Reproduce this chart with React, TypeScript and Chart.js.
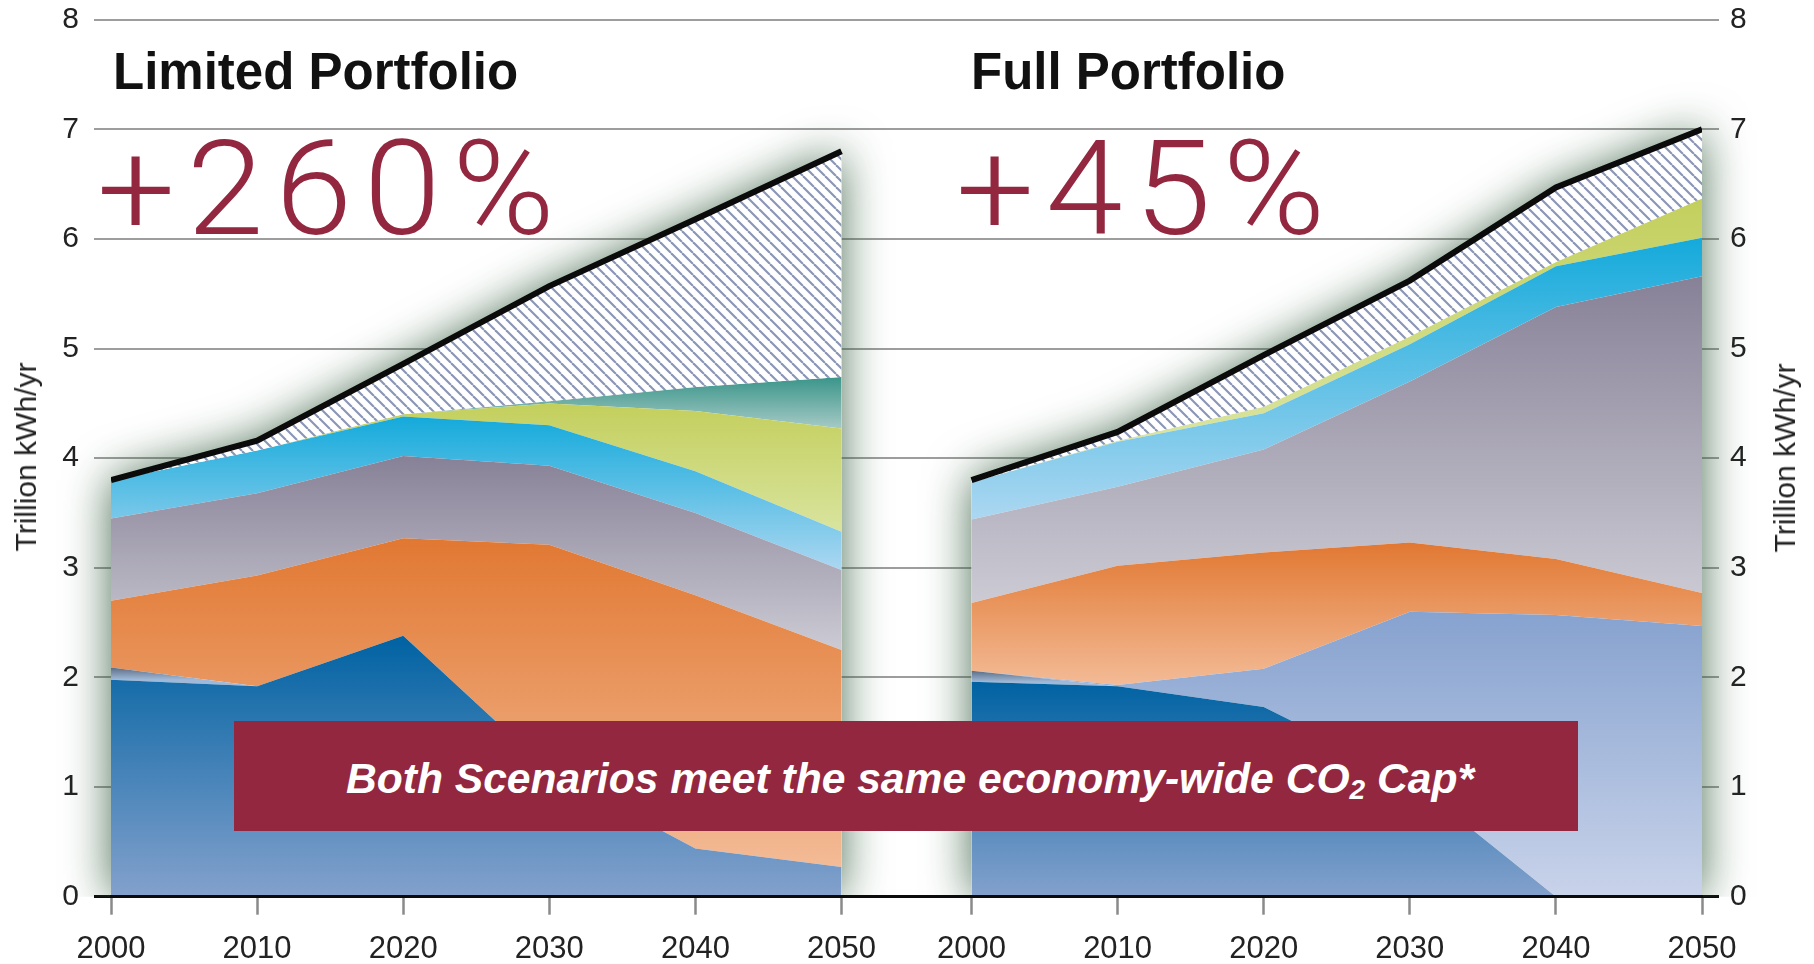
import React, { useEffect, useRef } from 'react';
import { Chart, registerables } from 'chart.js';

Chart.register(...registerables);

// ---------- data (trillion kWh / yr) ----------
const YEARS = [2000, 2010, 2020, 2030, 2040, 2050];
const Y_TICKS = [0, 1, 2, 3, 4, 5, 6, 7, 8];
const PANEL_TITLES = ['Limited Portfolio', 'Full Portfolio'];
const PANEL_CHANGE = ['+260%', '+45%'];
const BANNER_TEXT = ['Both Scenarios meet the same economy-wide CO', '2', ' Cap*'];
const AXIS_TITLE = 'Trillion kWh/yr';

// Limited Portfolio: layer thickness, bottom to top
const limitedCoal = [1.98, 1.92, 2.38, 1.15, 0.44, 0.27];
const limitedOil = [0.11, 0, 0, 0, 0, 0];
const limitedGas = [0.61, 1.01, 0.89, 2.06, 2.31, 1.98];
const limitedNuclear = [0.75, 0.75, 0.75, 0.72, 0.75, 0.73];
const limitedHydro = [0.35, 0.39, 0.36, 0.37, 0.38, 0.35];
const limitedWind = [0, 0, 0.02, 0.2, 0.55, 0.94];
const limitedOther = [0, 0, 0, 0.02, 0.22, 0.47];
const limitedDemand = [3.8, 4.16, 4.86, 5.57, 6.18, 6.8];

// Full Portfolio: layer thickness, bottom to top
const fullCoal = [1.96, 1.92, 1.73, 1.07, 0, 0];
const fullOil = [0.1, 0, 0, 0, 0, 0];
const fullCoalCcs = [0, 0.01, 0.35, 1.53, 2.57, 2.47];
const fullGas = [0.62, 1.09, 1.06, 0.63, 0.51, 0.3];
const fullNuclear = [0.76, 0.72, 0.94, 1.47, 2.3, 2.89];
const fullHydro = [0.34, 0.41, 0.33, 0.34, 0.37, 0.35];
const fullWind = [0, 0.01, 0.06, 0.07, 0.04, 0.36];
const fullDemand = [3.8, 4.24, 4.94, 5.62, 6.47, 7.0];

// ---------- style ----------
const FONT = "'Liberation Sans', Arial, Helvetica, sans-serif";
const PANEL_SHIFT = 58.9; // axis offset of the second panel (layout)
const COLORS: Record<string, [string, string]> = {
  coal: ['#0062a2', '#84a1cc'],
  oil: ['#5b6d85', '#a0b9d8'],
  ccs: ['#86a2cf', '#c9d3ea'],
  gas: ['#e17832', '#f3bb96'],
  nuclear: ['#878197', '#cccbd4'],
  hydro: ['#14aadb', '#acd7f1'],
  wind: ['#c3cf5c', '#d9e49f'],
  other: ['#3a958a', '#a6cac6'],
};
const WINE = '#93273f';

type Layer = { label: string; values: number[]; colors: [string, string] };

const panels: { layers: Layer[]; demand: number[]; shift: number }[] = [
  {
    shift: 0,
    demand: limitedDemand,
    layers: [
      { label: 'Coal', values: limitedCoal, colors: COLORS.coal },
      { label: 'Oil', values: limitedOil, colors: COLORS.oil },
      { label: 'Natural gas', values: limitedGas, colors: COLORS.gas },
      { label: 'Nuclear', values: limitedNuclear, colors: COLORS.nuclear },
      { label: 'Hydro', values: limitedHydro, colors: COLORS.hydro },
      { label: 'Wind', values: limitedWind, colors: COLORS.wind },
      { label: 'Other renewables', values: limitedOther, colors: COLORS.other },
    ],
  },
  {
    shift: PANEL_SHIFT,
    demand: fullDemand,
    layers: [
      { label: 'Coal', values: fullCoal, colors: COLORS.coal },
      { label: 'Oil', values: fullOil, colors: COLORS.oil },
      { label: 'Coal with CCS', values: fullCoalCcs, colors: COLORS.ccs },
      { label: 'Natural gas', values: fullGas, colors: COLORS.gas },
      { label: 'Nuclear', values: fullNuclear, colors: COLORS.nuclear },
      { label: 'Hydro', values: fullHydro, colors: COLORS.hydro },
      { label: 'Wind', values: fullWind, colors: COLORS.wind },
    ],
  },
];

const X_TICKS = panels.flatMap((p) => YEARS.map((y) => y + p.shift));

function makeGradient(chart: any, hi: number, lo: number, colors: [string, string]) {
  const ys = chart.scales && chart.scales.y;
  if (!chart.chartArea || !ys) return colors[0];
  const y1 = ys.getPixelForValue(hi);
  let y2 = ys.getPixelForValue(lo);
  if (Math.abs(y2 - y1) < 1) y2 = y1 + 1;
  const g = chart.ctx.createLinearGradient(0, y1, 0, y2);
  g.addColorStop(0, colors[0]);
  g.addColorStop(1, colors[1]);
  return g;
}

function makeHatch(): CanvasPattern | string {
  const s = 11;
  const c = document.createElement('canvas');
  c.width = s;
  c.height = s;
  const g = c.getContext('2d');
  if (!g) return '#fff';
  g.fillStyle = '#ffffff';
  g.fillRect(0, 0, s, s);
  g.strokeStyle = '#8a96b6';
  g.lineWidth = 2.1;
  for (const k of [-1, 0, 1]) {
    g.beginPath();
    g.moveTo(k * s, 0);
    g.lineTo(k * s + s, s);
    g.stroke();
  }
  return g.createPattern(c, 'repeat') || '#fff';
}

function buildDatasets(hatch: CanvasPattern | string) {
  const out: any[] = [];
  panels.forEach((p) => {
    let run = YEARS.map(() => 0);
    p.layers.forEach((layer, li) => {
      const bottom = run.slice();
      run = run.map((v, i) => v + layer.values[i]);
      const top = run.slice();
      const idx = layer.values.map((v, i) => (v > 0.005 ? i : -1)).filter((i) => i >= 0);
      const hi = Math.max(...idx.map((i) => top[i]));
      const lo = Math.min(...idx.map((i) => bottom[i]));
      out.push({
        label: layer.label,
        data: YEARS.map((yr, i) => ({ x: yr + p.shift, y: top[i] })),
        fill: li === 0 ? 'origin' : '-1',
        borderWidth: 0,
        borderColor: 'rgba(0,0,0,0)',
        pointRadius: 0,
        tension: 0,
        order: 1,
        backgroundColor: (ctx: any) => makeGradient(ctx.chart, hi, lo, layer.colors),
      });
    });
    out.push({
      label: 'Demand',
      data: YEARS.map((yr, i) => ({ x: yr + p.shift, y: p.demand[i] })),
      fill: '-1',
      borderColor: '#0b0b0b',
      borderWidth: 6,
      borderCapStyle: 'butt',
      borderJoinStyle: 'miter',
      pointRadius: 0,
      tension: 0,
      order: 0,
      backgroundColor: hatch,
    });
  });
  return out;
}

const glowPlugin = {
  id: 'glow',
  beforeDatasetsDraw(chart: any) {
    const { ctx } = chart;
    const xs = chart.scales.x;
    const ys = chart.scales.y;
    const y0 = ys.getPixelForValue(0);
    ctx.save();
    ctx.beginPath();
    ctx.rect(0, 0, chart.width, y0);
    ctx.clip();
    panels.forEach((p) => {
      ctx.beginPath();
      ctx.moveTo(xs.getPixelForValue(YEARS[0] + p.shift), y0);
      YEARS.forEach((yr, i) => ctx.lineTo(xs.getPixelForValue(yr + p.shift), ys.getPixelForValue(p.demand[i])));
      ctx.lineTo(xs.getPixelForValue(YEARS[YEARS.length - 1] + p.shift), y0);
      ctx.closePath();
      ctx.shadowColor = 'rgba(55,95,65,0.9)';
      ctx.shadowBlur = 46;
      ctx.fillStyle = '#ffffff';
      ctx.fill();
    });
    ctx.restore();
  },
};

const gridColor = (ctx: any) => (ctx.tick && ctx.tick.value === 0 ? '#0b0b0b' : '#9d9d9d');
const gridWidth = (ctx: any) => (ctx.tick && ctx.tick.value === 0 ? 3 : 2);

const fitY = (w: number) => (s: any) => {
  s.width = w;
  s.paddingTop = 0;
  s.paddingBottom = 0;
};

export default function App() {
  const ref = useRef<HTMLCanvasElement | null>(null);

  useEffect(() => {
    if (!ref.current) return;
    const hatch = makeHatch();
    const chart = new Chart(ref.current, {
      type: 'line',
      data: { datasets: buildDatasets(hatch) },
      plugins: [glowPlugin],
      options: {
        animation: false,
        responsive: false,
        events: [],
        layout: { padding: { top: 19.7, left: 0, right: 0, bottom: 0 }, autoPadding: false },
        plugins: { legend: { display: false }, tooltip: { enabled: false } },
        scales: {
          x: {
            type: 'linear',
            min: YEARS[0],
            max: YEARS[YEARS.length - 1] + PANEL_SHIFT,
            afterBuildTicks: (s: any) => {
              s.ticks = X_TICKS.map((v) => ({ value: v }));
            },
            afterFit: (s: any) => {
              s.height = 67.3;
              s.paddingLeft = 0;
              s.paddingRight = 0;
            },
            grid: { drawOnChartArea: false, drawTicks: true, tickLength: 18, tickColor: '#8a8a8a', tickWidth: 2.5 },
            border: { display: true, color: '#0b0b0b', width: 3, z: 1 },
            ticks: {
              autoSkip: false,
              maxRotation: 0,
              minRotation: 0,
              padding: 16,
              color: '#222',
              font: { family: FONT, size: 31 },
              callback: (v: any) => String(Math.round(v > YEARS[YEARS.length - 1] + 1 ? v - PANEL_SHIFT : v)),
            },
          },
          y: {
            position: 'left',
            min: 0,
            max: 8,
            afterBuildTicks: (s: any) => {
              s.ticks = Y_TICKS.map((v) => ({ value: v }));
            },
            afterFit: fitY(111),
            grid: { color: gridColor, lineWidth: gridWidth, tickLength: 17, drawTicks: true },
            border: { display: false },
            ticks: { padding: 15, color: '#222', font: { family: FONT, size: 30 } },
          },
          y2: {
            position: 'right',
            min: 0,
            max: 8,
            afterBuildTicks: (s: any) => {
              s.ticks = Y_TICKS.map((v) => ({ value: v }));
            },
            afterFit: fitY(112),
            grid: { drawOnChartArea: false, color: gridColor, lineWidth: gridWidth, tickLength: 17, drawTicks: true },
            border: { display: false },
            ticks: { padding: 11, color: '#222', font: { family: FONT, size: 30 } },
          },
        },
      } as any,
    });
    return () => chart.destroy();
  }, []);

  const titleStyle: React.CSSProperties = {
    position: 'absolute',
    top: 46,
    fontFamily: FONT,
    fontWeight: 700,
    fontSize: 51,
    lineHeight: '51px',
    color: '#111',
    whiteSpace: 'nowrap',
  };
  const pctStyle: React.CSSProperties = {
    position: 'absolute',
    top: 123,
    fontFamily: "Roboto, 'Open Sans', sans-serif",
    fontWeight: 300,
    fontSize: 132,
    lineHeight: '132px',
    letterSpacing: 11,
    color: WINE,
    whiteSpace: 'nowrap',
    transform: 'scaleX(1.05)',
    transformOrigin: 'left center',
  };
  const axisTitle = (cx: number, cy: number): React.CSSProperties => ({
    position: 'absolute',
    left: cx,
    top: cy,
    transform: 'translate(-50%, -50%) rotate(-90deg)',
    fontFamily: FONT,
    fontSize: 30,
    lineHeight: '30px',
    color: '#222',
    whiteSpace: 'nowrap',
  });

  return (
    <div style={{ position: 'absolute', left: 0, top: 0, width: 1814, height: 964, background: '#fff', overflow: 'hidden' }}>
      <canvas ref={ref} width={1814} height={964} style={{ display: 'block', width: 1814, height: 964 }} />
      <div style={{ ...titleStyle, left: 113 }}>{PANEL_TITLES[0]}</div>
      <div style={{ ...titleStyle, left: 971 }}>{PANEL_TITLES[1]}</div>
      <div style={{ ...pctStyle, left: 97 }}>{PANEL_CHANGE[0]}</div>
      <div style={{ ...pctStyle, left: 956 }}>{PANEL_CHANGE[1]}</div>
      <div style={axisTitle(26, 457)}>{AXIS_TITLE}</div>
      <div style={axisTitle(1785, 458)}>{AXIS_TITLE}</div>
      <div
        style={{
          position: 'absolute',
          left: 234,
          top: 721,
          width: 1344,
          height: 110,
          background: WINE,
          display: 'flex',
          alignItems: 'center',
          justifyContent: 'center',
        }}
      >
        <span
          style={{
            fontFamily: FONT,
            fontWeight: 700,
            fontStyle: 'italic',
            fontSize: 42.6,
            lineHeight: '43px',
            color: '#fff',
            whiteSpace: 'nowrap',
            position: 'relative',
            top: 2,
            left: 4,
          }}
        >
          {BANNER_TEXT[0]}
          <span style={{ fontSize: '0.66em', verticalAlign: '-0.22em', lineHeight: 0 }}>{BANNER_TEXT[1]}</span>
          {BANNER_TEXT[2]}
        </span>
      </div>
    </div>
  );
}
